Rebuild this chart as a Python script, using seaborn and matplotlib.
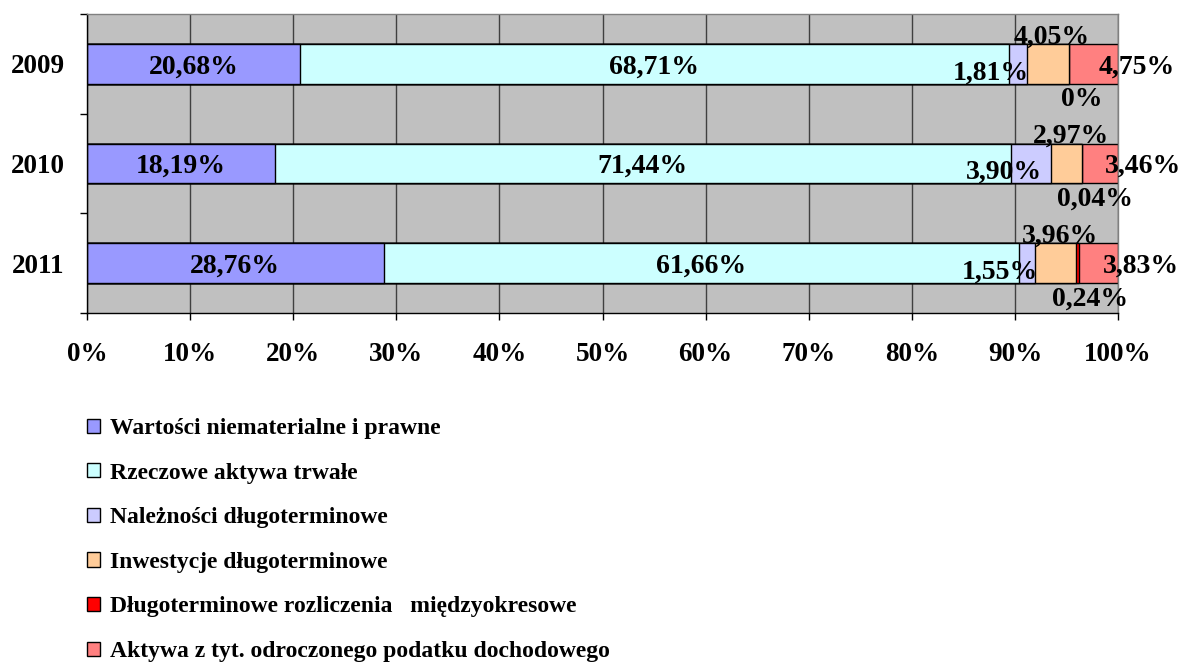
import numpy as np
import pandas as pd
import matplotlib
matplotlib.use('Agg')
import matplotlib.pyplot as plt
import seaborn as sns
from matplotlib.patches import Patch

# ---- data ----
years = ['2009', '2010', '2011']
series_names = [
    'Wartości niematerialne i prawne',
    'Rzeczowe aktywa trwałe',
    'Należności długoterminowe',
    'Inwestycje długoterminowe',
    'Długoterminowe rozliczenia   międzyokresowe',
    'Aktywa z tyt. odroczonego podatku dochodowego',
]
wartosci = [20.68, 18.19, 28.76]
rzeczowe = [68.71, 71.44, 61.66]
naleznosci = [1.81, 3.90, 1.55]
inwestycje = [4.05, 2.97, 3.96]
rozliczenia = [0.00, 0.04, 0.24]
aktywa_podatek = [4.75, 3.46, 3.83]
x_ticks = [0, 10, 20, 30, 40, 50, 60, 70, 80, 90, 100]

# ---- style ----
colors = ['#9999FF', '#CCFFFF', '#CCCCFF', '#FFCC99', '#FF0000', '#FF8080']
# label offsets per series in pixels: (dx from segment centre, dy from bar centre; +dy = up)
label_offsets = [(0, -3), (0, -3), (-27, -9), (4, 27), (13, -36), (43, -3)]

sns.set_style('white')
plt.rcParams['font.family'] = ['Liberation Serif', 'DejaVu Serif']
plt.rcParams['font.weight'] = 'bold'
plt.rcParams['text.color'] = 'black'
plt.rcParams['xtick.color'] = 'black'
plt.rcParams['ytick.color'] = 'black'

W, H = 1186, 665
fig = plt.figure(figsize=(W / 100, H / 100), dpi=100)
ax = fig.add_axes([87 / W, 1 - 313 / H, (1118 - 87) / W, (313 - 14) / H])
ax.set_facecolor('#C0C0C0')
ax.set_axisbelow(True)

values = np.array([wartosci, rzeczowe, naleznosci, inwestycje, rozliczenia, aktywa_podatek])
cum = np.cumsum(values, axis=0)

for i in reversed(range(len(series_names))):
    df = pd.DataFrame({'year': years, 'cum': cum[i]})
    sns.barplot(data=df, x='cum', y='year', order=years, orient='h',
                color=colors[i], saturation=1, width=0.4,
                edgecolor='black', linewidth=1, errorbar=None, ax=ax)

def fmt(v):
    if v == 0:
        return '0%'
    return f'{v:.2f}'.replace('.', ',') + '%'

for i in range(len(series_names)):
    for j, yr in enumerate(years):
        v = values[i, j]
        start = cum[i, j] - v
        xc = start + v / 2
        dx, dy = label_offsets[i]
        ax.annotate(fmt(v), xy=(xc, j), xytext=(dx, dy), textcoords='offset pixels',
                    ha='center', va='center', fontsize=20, fontweight='bold',
                    color='black', annotation_clip=False, zorder=10)

ax.set_xlim(0, 100)
ax.set_ylim(2.5, -0.5)
ax.set_xticks(x_ticks)
ax.set_xticklabels([f'{t}%' for t in x_ticks], fontsize=19.5, fontweight='bold', color='black')
ax.set_yticks([0, 1, 2])
ax.set_yticklabels(years, fontsize=19.5, fontweight='bold', color='black')
ax.set_yticks([-0.5, 0.5, 1.5, 2.5], minor=True)
ax.tick_params(axis='y', which='major', length=0, pad=16)
ax.tick_params(axis='y', which='minor', length=5, width=1, color='black', direction='out', left=True)
ax.tick_params(axis='x', which='major', length=5, width=1, color='black', direction='out', pad=16, bottom=True)
ax.set_xlabel('')
ax.set_ylabel('')

ax.xaxis.grid(True, color='#404040', linewidth=1)
ax.yaxis.grid(False)

for s in ['left', 'bottom']:
    ax.spines[s].set_color('black')
    ax.spines[s].set_linewidth(1)
for s in ['top', 'right']:
    ax.spines[s].set_color('#808080')
    ax.spines[s].set_linewidth(1)

handles = [Patch(facecolor=c, edgecolor='black', linewidth=1) for c in colors]
leg = fig.legend(handles, series_names, loc='upper left', bbox_to_anchor=(87 / W, 1 - 418 / H),
                 frameon=False, prop={'size': 17, 'weight': 'bold', 'family': ['Liberation Serif']},
                 handlelength=0.55, handleheight=0.55, handletextpad=0.42, labelspacing=1.0,
                 borderaxespad=0, borderpad=0)
for t in leg.get_texts():
    t.set_color('black')

fig.savefig('out.png', dpi=100)
